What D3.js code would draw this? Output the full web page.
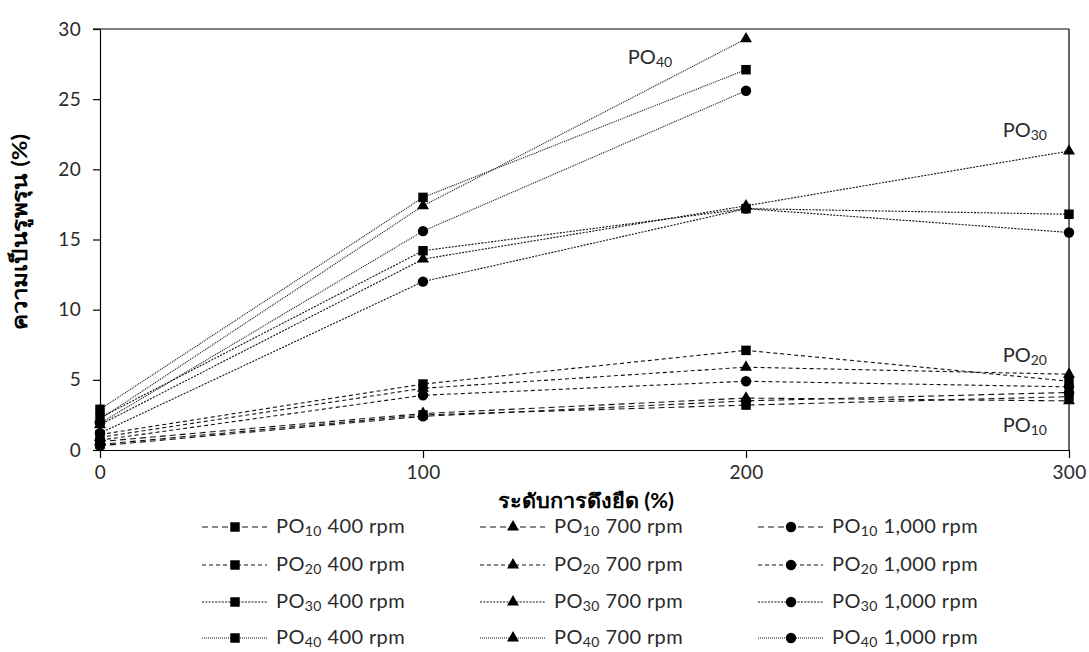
<!DOCTYPE html>
<html>
<head>
<meta charset="utf-8">
<script src="https://cdn.jsdelivr.net/npm/d3@7"></script>
<style>
  body { margin: 0; background: #fff; }
  text { font-family: Lato, "Open Sans", sans-serif; fill: #2a2a2a; }
  .axis path, .axis line { stroke: #000; stroke-width: 1.2; }
  .axis text { font-size: 19px; font-family: Lato, sans-serif; fill: #2a2a2a; letter-spacing: 0.3px; }
</style>
</head>
<body>
<div id="chart"></div>
<script>
// stretch levels on the x axis (%)
var stretch = [0, 100, 200, 300];
var yTicks = [0, 5, 10, 15, 20, 25, 30];
var xTicks = [0, 100, 200, 300];

// PO grades and rotor speeds
var grades = ["10", "20", "30", "40"];
var speeds = ["400", "700", "1,000"];

// porosity values (%) per grade, per speed, at each stretch level
var po10_400 = [0.4, 2.5, 3.2, 3.8];
var po10_700 = [0.6, 2.6, 3.7, 3.5];
var po10_1000 = [0.3, 2.4, 3.5, 4.1];
var po20_400 = [1.1, 4.7, 7.1, 4.9];
var po20_700 = [0.9, 4.4, 5.9, 5.4];
var po20_1000 = [0.7, 3.9, 4.9, 4.5];
var po30_400 = [2.3, 14.2, 17.2, 16.8];
var po30_700 = [1.8, 13.6, 17.4, 21.3];
var po30_1000 = [1.2, 12.0, 17.2, 15.5];
var po40_400 = [2.9, 18.0, 27.1];
var po40_700 = [2.2, 17.4, 29.3];
var po40_1000 = [1.9, 15.6, 25.6];

var seriesValues = [
    [po10_400, po10_700, po10_1000],
    [po20_400, po20_700, po20_1000],
    [po30_400, po30_700, po30_1000],
    [po40_400, po40_700, po40_1000]
];

var dashes = ["6,4", "4,3", "2,1.3", "1,1"];
var symbols = [d3.symbolSquare, d3.symbolTriangle, d3.symbolCircle];
var symSizes = [90, 62, 85];

var width = 1089, height = 652;
var svg = d3.select("#chart").append("svg")
    .attr("width", width)
    .attr("height", height);

var x = d3.scaleLinear().domain([0, 300]).range([100, 1069]);
var y = d3.scaleLinear().domain([0, 30]).range([450, 29]);

// frame: top and right
svg.append("line")
    .attr("x1", x(0) - 7).attr("x2", x(300))
    .attr("y1", y(30)).attr("y2", y(30))
    .attr("stroke", "#000").attr("stroke-width", 1.2);
svg.append("line")
    .attr("x1", x(300)).attr("x2", x(300))
    .attr("y1", y(30)).attr("y2", y(0))
    .attr("stroke", "#000").attr("stroke-width", 1.2);

svg.append("g")
    .attr("class", "axis")
    .attr("transform", "translate(0," + y(0) + ")")
    .call(d3.axisBottom(x).tickValues(xTicks).tickSize(8).tickSizeOuter(0).tickPadding(8));

svg.append("g")
    .attr("class", "axis")
    .attr("transform", "translate(" + x(0) + ",0)")
    .call(d3.axisLeft(y).tickValues(yTicks).tickSize(7).tickSizeOuter(0).tickPadding(12));

// series lines + markers
var line = d3.line()
    .x(function(d, i) { return x(stretch[i]); })
    .y(function(d) { return y(d); });

seriesValues.forEach(function(group, g) {
    group.forEach(function(vals, s) {
        svg.append("path")
            .datum(vals)
            .attr("d", line)
            .attr("fill", "none")
            .attr("stroke", "#111")
            .attr("stroke-width", 1.1)
            .attr("stroke-dasharray", dashes[g]);
    });
});
seriesValues.forEach(function(group, g) {
    group.forEach(function(vals, s) {
        svg.selectAll(null)
            .data(vals)
            .enter()
            .append("path")
            .attr("d", d3.symbol().type(symbols[s]).size(symSizes[s]))
            .attr("transform", function(d, i) {
                return "translate(" + x(stretch[i]) + "," + y(d) + ")";
            })
            .attr("fill", "#000");
    });
});

// PO labels inside the plot
function poText(sel, sub, fs) {
    sel.append("tspan").text("PO");
    sel.append("tspan").text(sub).attr("font-size", fs * 0.7).attr("dy", fs * 0.16);
}
var inLabels = [
    { sub: "40", sx: 100, sy: 27.5, dx: 227 },
    { sub: "30", sx: 300, sy: 22.3, dx: -22 },
    { sub: "20", sx: 300, sy: 6.3, dx: -22 },
    { sub: "10", sx: 300, sy: 1.3, dx: -22 }
];
inLabels.forEach(function(l) {
    var t = svg.append("text")
        .attr("x", x(l.sx) + l.dx)
        .attr("y", y(l.sy))
        .attr("text-anchor", l.sx === 100 ? "middle" : "end")
        .attr("font-size", 20);
    poText(t, l.sub, 20);
});

// axis titles
svg.append("text")
    .attr("x", 498).attr("y", 508)
    .attr("textLength", 176)
    .attr("lengthAdjust", "spacingAndGlyphs")
    .attr("font-size", 20)
    .attr("font-weight", "bold")
    .style("fill", "#000")
    .text("ระดับการดึงยืด (%)");

svg.append("text")
    .attr("transform", "translate(27,330) rotate(-90)")
    .attr("textLength", 196)
    .attr("lengthAdjust", "spacingAndGlyphs")
    .attr("font-size", 20)
    .attr("font-weight", "bold")
    .style("fill", "#000")
    .text("ความเป็นรูพรุน (%)");

// legend: columns by speed, rows by grade
var colX = [202, 480, 758];
var rowY = [527, 565, 602, 638];
grades.forEach(function(gr, g) {
    speeds.forEach(function(sp, s) {
        var lg = svg.append("g")
            .attr("transform", "translate(" + colX[s] + "," + rowY[g] + ")");
        lg.append("line")
            .attr("x1", 0).attr("x2", 65)
            .attr("y1", 0).attr("y2", 0)
            .attr("stroke", "#111")
            .attr("stroke-width", 1.1)
            .attr("stroke-dasharray", dashes[g]);
        lg.append("path")
            .attr("d", d3.symbol().type(symbols[s]).size(symSizes[s]))
            .attr("transform", "translate(33,0)")
            .attr("fill", "#000");
        var t = lg.append("text")
            .attr("x", 74).attr("y", 6)
            .attr("font-size", 20)
            .style("letter-spacing", "0.4px");
        poText(t, gr, 20);
        t.append("tspan").text(" " + sp + " rpm").attr("dy", -20 * 0.16);
    });
});
</script>
</body>
</html>
